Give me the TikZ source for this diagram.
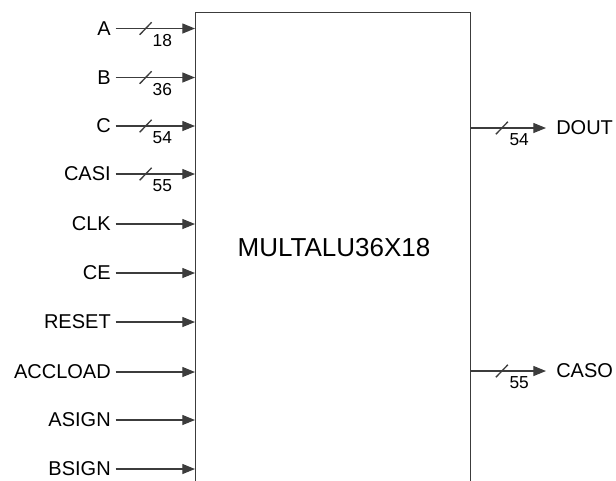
\documentclass[tikz,border=0pt]{standalone}
\usepackage{fontspec}
\setmainfont{Liberation Sans}
\usetikzlibrary{arrows.meta}
\definecolor{ln}{HTML}{3C3C3C}
\tikzset{
  sig/.style={anchor=east, inner sep=0pt, font=\fontsize{15}{17}\selectfont},
  osig/.style={anchor=west, inner sep=0pt, font=\fontsize{15}{17}\selectfont},
  wire/.style={draw=ln, line width=0.9pt, -{Triangle[length=9.5pt,width=7.5pt]}},
  busmark/.style={draw=ln, line width=1pt},
  width/.style={inner sep=0pt, font=\fontsize{13}{15}\selectfont},
  blk/.style={draw=ln, line width=0.9pt, minimum width=206pt, minimum height=366pt, anchor=north west, inner sep=0pt},
}
\begin{document}
\begin{tikzpicture}[x=0.75pt,y=-0.75pt]
\useasboundingbox (0,0) rectangle (616,480);
\node[blk] (box) at (195,12) {};
\node[font=\fontsize{19.5}{22}\selectfont] (title) at (334,248) {MULTALU36X18};
% inputs
\foreach \n/\t/\y in {a/A/28.5,b/B/77.5,c/C/126,casi/CASI/174,clk/CLK/224,ce/CE/273,reset/RESET/322,accload/ACCLOAD/372,asign/ASIGN/420,bsign/BSIGN/469}{
  \node[sig] (l\n) at (111,\y) {\t};
  \coordinate (s\n) at ([xshift=3.5pt]l\n.east);
  \draw[wire] (s\n) -- (s\n -| box.west);
}
% bus marks on inputs
\foreach \n/\w in {a/18,b/36,c/54,casi/55}{
  \coordinate (m\n) at ([xshift=30*0.75pt]s\n);
  \draw[busmark] ([shift={(-4.5pt,-4.7pt)}]m\n) -- ([shift={(4.5pt,4.7pt)}]m\n);
  \node[width] (w\n) at ([shift={(12.5pt,-9pt)}]m\n) {\w};
}
% outputs
\coordinate (edout) at (box.east |- 0,128);
\coordinate (ecaso) at (box.east |- 0,371);
\node[osig] (ldout) at (556,128) {DOUT};
\node[osig] (lcaso) at (556,371) {CASO};
\draw[wire] (edout) -- ([xshift=-7.5pt]ldout.west);
\draw[wire] (ecaso) -- ([xshift=-7.5pt]lcaso.west);
\foreach \n/\w in {dout/54,caso/55}{
  \coordinate (m\n) at ([xshift=31*0.75pt]e\n);
  \draw[busmark] ([shift={(-4.5pt,-4.7pt)}]m\n) -- ([shift={(4.5pt,4.7pt)}]m\n);
  \node[width] (w\n) at ([shift={(13pt,-9pt)}]m\n) {\w};
}
\end{tikzpicture}
\end{document}
